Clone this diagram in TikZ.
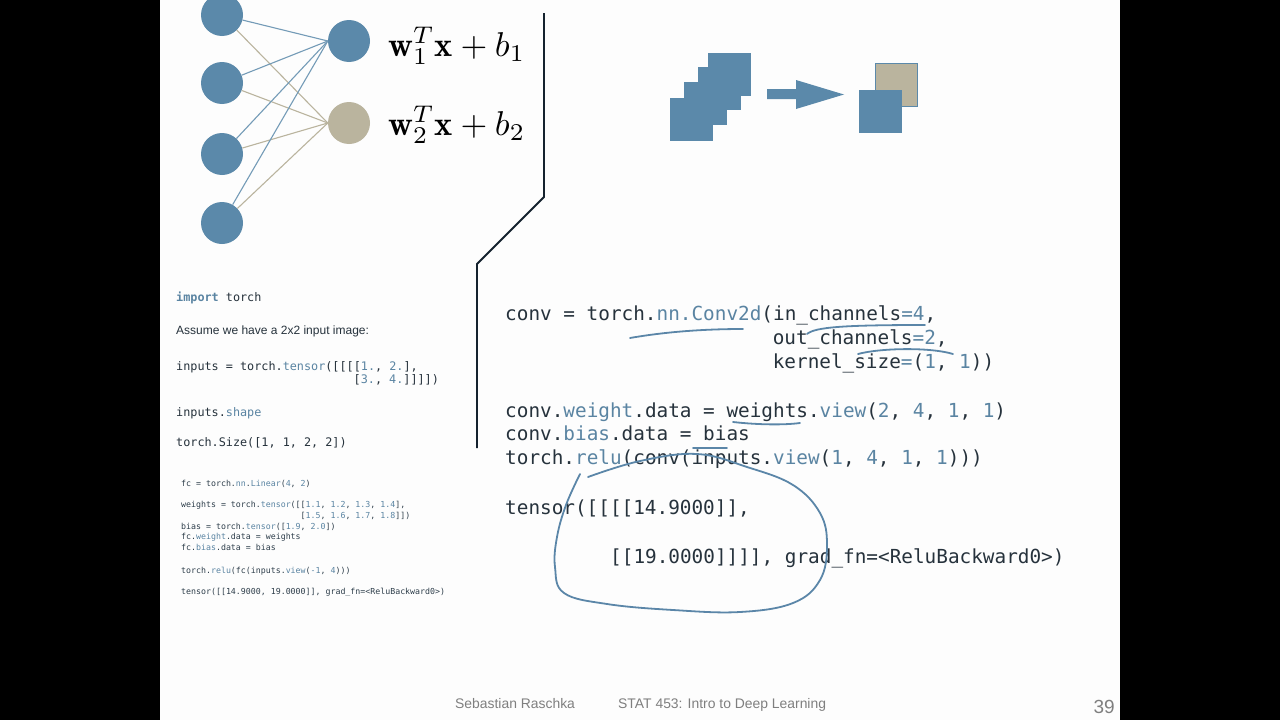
\documentclass[tikz,border=0pt]{standalone}
\usepackage{fontspec}
\newfontfamily\codefont{DejaVu Sans Mono}
\newfontfamily\sansf{Liberation Sans}
\definecolor{nblue}{HTML}{5B89AA}
\definecolor{nbeige}{HTML}{BAB49E}
\definecolor{cdark}{HTML}{26323C}
\definecolor{cblue}{HTML}{5A84A2}
\definecolor{ink}{HTML}{5B86A8}
\definecolor{divider}{HTML}{15222E}
\definecolor{foot}{HTML}{7F7F7F}
\definecolor{slide}{HTML}{FDFDFD}
\newcommand\cb[1]{\textcolor{cblue}{#1}}
\begin{document}
\begin{tikzpicture}[x=1pt,y=-1pt,
  neuron/.style={circle, fill=nblue, minimum size=42pt, inner sep=0pt},
  wblue/.style={draw=nblue!85, line width=1.1pt},
  wbeige/.style={draw=nbeige, line width=1.1pt},
  mathlabel/.style={anchor=base west, inner sep=0pt},
  bigcode/.style={anchor=base west, inner sep=0pt, text=cdark, font=\codefont\fontsize{19.35}{23}\selectfont},
  midcode/.style={anchor=base west, inner sep=0pt, text=cdark, font=\codefont\fontsize{11.8}{14}\selectfont},
  tinycode/.style={anchor=base west, inner sep=0pt, text=cdark!85!cblue, font=\codefont\fontsize{8.27}{10}\selectfont},
  annot/.style={draw=ink, line width=1.8pt, line cap=round, line join=round},
  foottext/.style={anchor=base west, inner sep=0pt, text=foot, font=\sansf\fontsize{13.9}{16}\selectfont}]
\useasboundingbox (0,0) rectangle (1280,720);
\fill[black] (0,0) rectangle (1280,720);
\fill[slide] (160,0) rectangle (1120,720);

% neural network
\node[neuron] (i1) at (222,15) {};
\node[neuron] (i2) at (222,83) {};
\node[neuron] (i3) at (222,154) {};
\node[neuron] (i4) at (222,223) {};
\node[neuron] (o1) at (349,41) {};
\node[neuron, fill=nbeige] (o2) at (349,123) {};
\foreach \i in {1,2,3,4}{
  \draw[wbeige] (i\i) -- (o2.west);
  \draw[wblue] (i\i) -- (o1.west);
}
\node[mathlabel] (l1) at (388,56) {\resizebox{137pt}{!}{$\mathbf{w}_1^T\mathbf{x}+b_1$}};
\node[mathlabel] (l2) at (388,135) {\resizebox{137pt}{!}{$\mathbf{w}_2^T\mathbf{x}+b_2$}};

% divider
\draw[divider, line width=1.8pt] (544,13) -- (544,197) -- (477,264) -- (477,448);

% conv illustration
\fill[nblue] (708,53) rectangle +(43,43);
\fill[nblue] (698,67) rectangle +(43,43);
\fill[nblue] (684,82) rectangle +(43,43);
\fill[nblue] (670,98) rectangle +(43,43);
\fill[nblue] (767,89) -- (796,89) -- (796,80) -- (844,94.5) -- (796,109) -- (796,99) -- (767,99) -- cycle;
\filldraw[fill=nbeige, draw=nblue, line width=0.8pt] (875,63) rectangle (917,106);
\fill[nblue] (859,90) rectangle (902,133);

% left code, upper
\node[midcode] (a1) at (176,301) {\textbf{\cb{import}} torch};
\node[anchor=base west, inner sep=0pt, text=cdark, font=\sansf\fontsize{12}{14}\selectfont] (a2) at (176,334) {Assume we have a 2x2 input image:};
\node[midcode] (a3) at (176,370) {inputs = torch.\cb{tensor}([[[[\cb{1.}, \cb{2.}],};
\node[midcode] (a4) at (353.5,383) {[\cb{3.}, \cb{4.}]]]])};
\node[midcode] (a5) at (176,416) {inputs.\cb{shape}};
\node[midcode] (a6) at (176,446) {torch.Size([1, 1, 2, 2])};

% left code, lower
\node[tinycode] (b1) at (181,486) {fc = torch.\cb{nn}.\cb{Linear}(\cb{4}, \cb{2})};
\node[tinycode] (b2) at (181,507) {weights = torch.\cb{tensor}([[\cb{1.1}, \cb{1.2}, \cb{1.3}, \cb{1.4}],};
\node[tinycode] (b3) at (300.5,518) {[\cb{1.5}, \cb{1.6}, \cb{1.7}, \cb{1.8}]])};
\node[tinycode] (b4) at (181,529) {bias = torch.\cb{tensor}([\cb{1.9}, \cb{2.0}])};
\node[tinycode] (b5) at (181,539) {fc.\cb{weight}.data = weights};
\node[tinycode] (b6) at (181,550) {fc.\cb{bias}.data = bias};
\node[tinycode] (b7) at (181,573) {torch.\cb{relu}(fc(inputs.\cb{view}(\cb{-1}, \cb{4})))};
\node[tinycode] (b8) at (181,594) {tensor([[14.9000, 19.0000]], grad\_fn=<ReluBackward0>)};

% right code
\node[bigcode] (c1) at (505,320) {conv = torch.\cb{nn.Conv2d}(in\_channels\cb{=4},};
\node[bigcode] (c2) at (772.6,344) {out\_channels\cb{=2},};
\node[bigcode] (c3) at (772.6,368) {kernel\_size\cb{=}(\cb{1}, \cb{1}))};
\node[bigcode] (c4) at (505,417) {conv.\cb{weight}.data = weights.\cb{view}(\cb{2}, \cb{4}, \cb{1}, \cb{1})};
\node[bigcode] (c5) at (505,440) {conv.\cb{bias}.data = bias};
\node[bigcode] (c6) at (505,464) {torch.\cb{relu}(conv(inputs.\cb{view}(\cb{1}, \cb{4}, \cb{1}, \cb{1})))};
\node[bigcode] (c7) at (505,514) {tensor([[[[14.9000]],};
\node[bigcode] (c8) at (610,563) {[[19.0000]]]], grad\_fn=<ReluBackward0>)};

% handwritten annotations
\draw[annot] (630,338) .. controls (670,331) and (710,329) .. (743,329);
\draw[annot] (807,334) .. controls (815,327) and (845,325) .. (925,325);
\draw[annot] (858,354) .. controls (880,348) and (930,347) .. (953,354);
\draw[annot] (733,422) .. controls (760,425) and (785,425) .. (800,423);
\draw[annot] (693,448) -- (727,448);
\draw[annot] plot[smooth, tension=0.65] coordinates {(588,477) (640,461) (697,454) (747,467) (793,485) (820,513) (827,545) (820,580) (793,603) (740,612) (673,610) (607,604) (564,593) (555,567) (557,537) (566,505) (580,474)};

% footer
\node[foottext] (f1) at (455,708) {Sebastian Raschka};
\node[foottext] (f2) at (618,708) {STAT 453: Intro to Deep Learning};
\node[anchor=base east, inner sep=0pt, text=foot, font=\sansf\fontsize{19}{22}\selectfont] (f3) at (1115,713) {39};
\end{tikzpicture}
\end{document}
